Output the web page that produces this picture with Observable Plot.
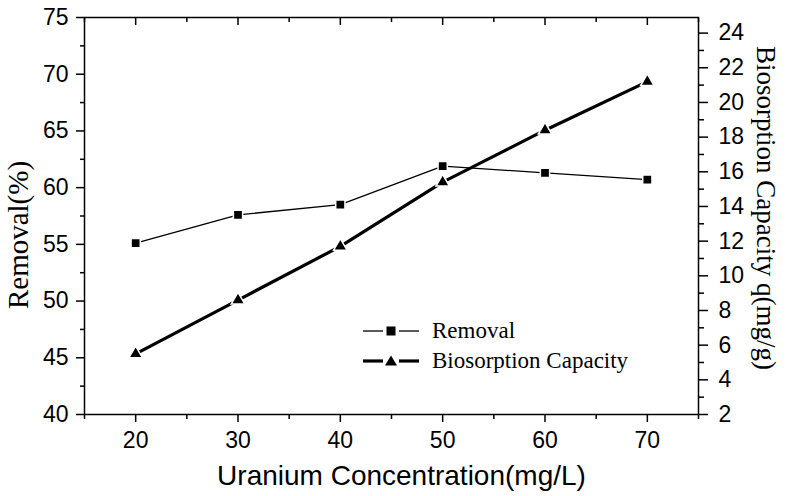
<!DOCTYPE html>
<html>
<head>
<meta charset="utf-8">
<script src="https://cdn.jsdelivr.net/npm/d3@7"></script>
<script src="https://cdn.jsdelivr.net/npm/@observablehq/plot@0.6"></script>
<style>
  html, body { margin: 0; padding: 0; background: #fff; }
  #wrap { position: relative; width: 786px; height: 496px; }
  #legend { position: absolute; left: 362px; top: 316px; font-family: "Liberation Serif", "Times New Roman", serif; font-size: 23px; color: #000; }
  #legend .row { display: flex; align-items: center; height: 30px; }
  #legend svg { width: 58px; height: 20px; margin-right: 12px; }
</style>
</head>
<body>
<div id="wrap"><div id="legend"></div></div>
<script>
// ---- data ----
const concentration = [20, 30, 40, 50, 60, 70];
const removal = [55.1, 57.6, 58.5, 61.9, 61.3, 60.7];
const capacity = [5.5, 8.6, 11.7, 15.4, 18.4, 21.2];

const xTicks = [20, 30, 40, 50, 60, 70];
const xMinor = [15, 25, 35, 45, 55, 65, 75];
const leftTicks = [40, 45, 50, 55, 60, 65, 70, 75];
const leftMinor = [42.5, 47.5, 52.5, 57.5, 62.5, 67.5, 72.5];
const rightTicks = [2, 4, 6, 8, 10, 12, 14, 16, 18, 20, 22, 24];
const rightMinor = [3, 5, 7, 9, 11, 13, 15, 17, 19, 21, 23];
const leftDomain = [40, 75];
const rightDomain = [2, 24.9];

const seriesNames = ["Removal", "Biosorption Capacity"];
const xTitle = "Uranium Concentration(mg/L)";
const leftTitle = "Removal(%)";
const rightTitle = "Biosorption Capacity q(mg/g)";

// map right-axis values into left-axis units
const k = (leftDomain[1] - leftDomain[0]) / (rightDomain[1] - rightDomain[0]);
const toLeft = v => leftDomain[0] + (v - rightDomain[0]) * k;
const fromLeft = v => rightDomain[0] + (v - leftDomain[0]) / k;

const remData = concentration.map((c, i) => ({x: c, y: removal[i]}));
const capData = concentration.map((c, i) => ({x: c, y: toLeft(capacity[i])}));

const sans = "'Liberation Sans', Arial, Helvetica, sans-serif";
const serif = "'Liberation Serif', 'Times New Roman', serif";
const blank = () => "";
const tickFont = 23;

const chart = Plot.plot({
  width: 786,
  height: 496,
  marginLeft: 84,
  marginRight: 88,
  marginTop: 17,
  marginBottom: 82,
  style: {fontFamily: sans, fontSize: "22px", color: "#000", background: "#fff", overflow: "visible"},
  x: {domain: [15, 75]},
  y: {domain: leftDomain},
  marks: [
    // bottom axis
    Plot.axisX({anchor: "bottom", ticks: xTicks, tickSize: 8, tickPadding: 9, strokeWidth: 1.5, label: null, fontSize: tickFont}),
    Plot.axisX({anchor: "bottom", ticks: xMinor, tickSize: 5, strokeWidth: 1.5, tickFormat: blank, label: null}),
    // top inward ticks
    Plot.axisX({anchor: "top", ticks: xTicks, tickSize: -7, strokeWidth: 1.5, tickFormat: blank, label: null}),
    Plot.axisX({anchor: "top", ticks: xMinor, tickSize: -4, strokeWidth: 1.5, tickFormat: blank, label: null}),
    // left axis
    Plot.axisY({anchor: "left", ticks: leftTicks, tickSize: 8, tickPadding: 8, strokeWidth: 1.5, label: null, fontSize: tickFont}),
    Plot.axisY({anchor: "left", ticks: leftMinor, tickSize: 4, strokeWidth: 1.5, tickFormat: blank, label: null}),
    // right axis (capacity)
    Plot.axisY({anchor: "right", ticks: rightTicks.map(toLeft), tickSize: 9, tickPadding: 11, strokeWidth: 1.5,
      tickFormat: v => String(Math.round(fromLeft(v))), label: null, fontSize: tickFont}),
    Plot.axisY({anchor: "right", ticks: rightMinor.map(toLeft), tickSize: 5, strokeWidth: 1.5, tickFormat: blank, label: null}),
    Plot.frame({stroke: "#000", strokeWidth: 1.5}),
    // series
    Plot.line(remData, {x: "x", y: "y", stroke: "#000", strokeWidth: 1.3}),
    Plot.line(capData, {x: "x", y: "y", stroke: "#000", strokeWidth: 3.2}),
    Plot.dot(remData, {x: "x", y: "y", symbol: "square", r: 5.2, fill: "#000", stroke: "#fff", strokeWidth: 1.5}),
    Plot.dot(capData, {x: "x", y: "y", symbol: "triangle", r: 5, fill: "#000", stroke: "#fff", strokeWidth: 1.5}),
    // titles
    Plot.text([leftTitle], {text: d => d, frameAnchor: "left", textAnchor: "middle", lineAnchor: "middle",
      rotate: -90, dx: -66, dy: 19, fontFamily: serif, fontSize: 29}),
    Plot.text([rightTitle], {text: d => d, frameAnchor: "right", textAnchor: "middle", lineAnchor: "middle",
      rotate: 90, dx: 67, dy: -8, fontFamily: serif, fontSize: 27}),
    Plot.text([xTitle], {text: d => d, frameAnchor: "bottom", textAnchor: "middle", lineAnchor: "middle",
      dy: 62, dx: 10, fontFamily: sans, fontSize: 28})
  ]
});
document.getElementById("wrap").prepend(chart);

// legend overlay
const legendSpecs = [
  {name: seriesNames[0], width: 1.3, sym: "square"},
  {name: seriesNames[1], width: 3.2, sym: "triangle"}
];
const legend = document.getElementById("legend");
for (const s of legendSpecs) {
  const row = document.createElement("div");
  row.className = "row";
  const sym = s.sym === "square"
    ? `<rect x="24.5" y="5.5" width="9" height="9" fill="#000"/>`
    : `<path d="M29,4.5 L35,14.5 L23,14.5 Z" fill="#000"/>`;
  row.innerHTML = `<svg viewBox="0 0 58 20">
      <line x1="1" x2="21" y1="10" y2="10" stroke="#000" stroke-width="${s.width}"/>
      <line x1="37" x2="57" y1="10" y2="10" stroke="#000" stroke-width="${s.width}"/>
      ${sym}</svg><span>${s.name}</span>`;
  legend.appendChild(row);
}
</script>
</body>
</html>
